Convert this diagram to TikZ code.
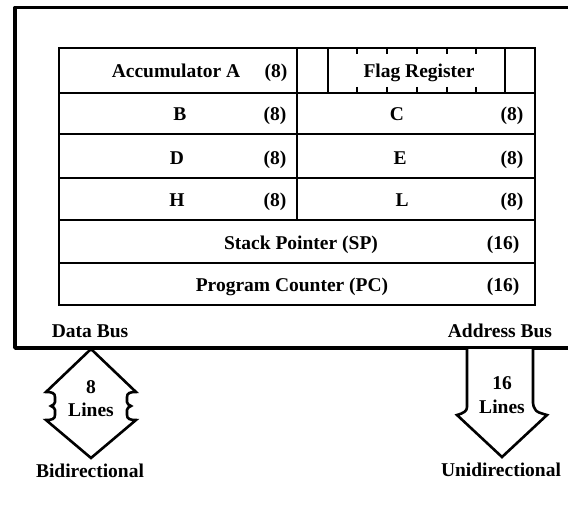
\documentclass[tikz,border=0pt]{standalone}
\usepackage{fontspec}
\setmainfont{Liberation Serif}
\begin{document}
\begin{tikzpicture}[x=1pt,y=-1pt,
  lbl/.style={font=\fontsize{19.5}{22}\selectfont\bfseries, inner sep=0pt, text height=13pt, text depth=0pt, anchor=center},
  outerline/.style={line width=3.6pt, line cap=round, line join=round},
  gridline/.style={line width=2.3pt},
  tickline/.style={line width=1.6pt},
  busarrow/.style={line width=2.6pt, line join=miter, fill=white}]
\useasboundingbox (0,0) rectangle (568,508);
\begin{scope}
\clip (0,0) rectangle (568,508);
% outer CPU box (right edge beyond the picture)
\draw[outerline] (590,7.5) -- (15,7.5) -- (15,348) -- (590,348);
\end{scope}
% register table
\draw[gridline] (59,48) rectangle (535,305);
\foreach \yy in {93,134,178,220,263} \draw[gridline] (59,\yy) -- (535,\yy);
\draw[gridline] (297,48) -- (297,220);
\draw[gridline] (328,48) -- (328,93);
\draw[gridline] (505,48) -- (505,93);
\foreach \xx in {357,387,417,447,476} {
  \draw[tickline] (\xx,48) -- (\xx,54);
  \draw[tickline] (\xx,87) -- (\xx,93);
}
% register labels
\node[lbl] (acc) at (176,71) {Accumulator A};
\node[lbl] (accw) at (276,71) {(8)};
\node[lbl] (flag) at (419,71) {Flag Register};
\node[lbl] (b) at (180,114) {B};
\node[lbl] (bw) at (275,114) {(8)};
\node[lbl] (c) at (397,114) {C};
\node[lbl] (cw) at (512,114) {(8)};
\node[lbl] (d) at (177,158) {D};
\node[lbl] (dw) at (275,158) {(8)};
\node[lbl] (e) at (400,158) {E};
\node[lbl] (ew) at (512,158) {(8)};
\node[lbl] (h) at (177,200) {H};
\node[lbl] (hw) at (275,200) {(8)};
\node[lbl] (l) at (402,200) {L};
\node[lbl] (lw) at (512,200) {(8)};
\node[lbl] (sp) at (301,243) {Stack Pointer (SP)};
\node[lbl] (spw) at (503,243) {(16)};
\node[lbl] (pc) at (292,285) {Program Counter (PC)};
\node[lbl] (pcw) at (503,285) {(16)};
% bus labels
\node[lbl] (db) at (90,331) {Data Bus};
\node[lbl] (ab) at (500,331) {Address Bus};
% data bus: bidirectional block arrow
\coordinate (dtop) at (91,349);
\coordinate (dbot) at (91,458);
\draw[busarrow] (dtop) -- (46,392)
  .. controls (52,392) and (55,393) .. (55,397) -- (55,402)
  .. controls (55,404) and (53,405) .. (51,406)
  .. controls (53,407) and (55,408) .. (55,410) -- (55,415)
  .. controls (55,419) and (52,420) .. (46,420)
  -- (dbot) -- (136,420)
  .. controls (130,420) and (127,419) .. (127,415) -- (127,410)
  .. controls (127,408) and (129,407) .. (131,406)
  .. controls (129,405) and (127,404) .. (127,402) -- (127,397)
  .. controls (127,393) and (130,392) .. (136,392) -- cycle;
\node[lbl] (d8) at (91,387) {8};
\node[lbl] (dl) at (91,410) {Lines};
\node[lbl] (bidi) at (90,471) {Bidirectional};
% address bus: unidirectional block arrow
\coordinate (atl) at (467,349);
\coordinate (atr) at (533,349);
\coordinate (atip) at (502,457);
\draw[busarrow] (atl) -- (467,407)
  .. controls (467,411) and (464,413) .. (457,415)
  -- (atip) -- (547,415)
  .. controls (540,413) and (536,412) .. (535,409)
  .. controls (534,407) and (533,406) .. (533,403) -- (atr);
\node[lbl] (a16) at (502,383) {16};
\node[lbl] (al) at (502,407) {Lines};
\node[lbl] (uni) at (501,470) {Unidirectional};
\end{tikzpicture}
\end{document}
